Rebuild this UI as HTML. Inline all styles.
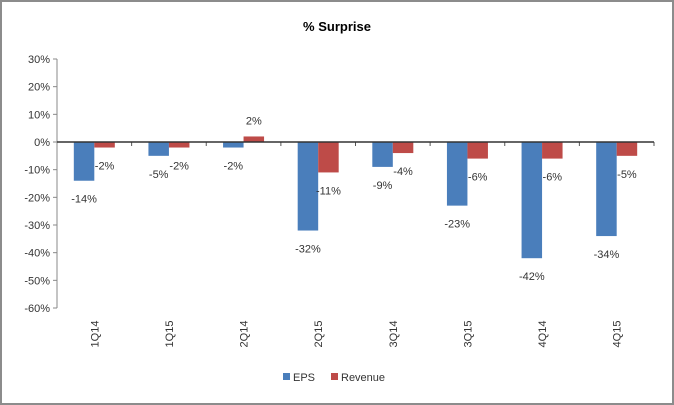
<!DOCTYPE html>
<html><head><meta charset="utf-8"><style>
body{margin:0;background:#fff;}
svg{display:block;font-family:"Liberation Sans",sans-serif;}
</style></head><body>
<svg id="chart" width="674" height="405">
<rect x="1" y="1" width="672" height="403" fill="#fff" stroke="#8c8c8c" stroke-width="2"/>
<text x="337" y="31" text-anchor="middle" font-size="13" font-weight="bold" fill="#000">% Surprise</text>
<g id="plot"></g>
<g>
<rect x="283" y="373" width="7" height="7" fill="#4a7ebb"/>
<text x="293" y="381" font-size="11" fill="#333">EPS</text>
<rect x="331" y="373" width="7" height="7" fill="#be4b48"/>
<text x="341" y="381" font-size="11" fill="#333">Revenue</text>
</g>
</svg>
<script>
const categories=["1Q14","1Q15","2Q14","2Q15","3Q14","3Q15","4Q14","4Q15"];
const eps=[-14,-5,-2,-32,-9,-23,-42,-34];
const revenue=[-2,-2,2,-11,-4,-6,-6,-5];
const ticks=[30,20,10,0,-10,-20,-30,-40,-50,-60];
const NS="http://www.w3.org/2000/svg";
const g=document.getElementById('plot');
const x0=57,x1=654,yTop=59,yBot=308;
const y=v=>yTop+(30-v)/90*(yBot-yTop);
const cw=(x1-x0)/categories.length;
function mk(t,a){const e=document.createElementNS(NS,t);for(const k in a)e.setAttribute(k,a[k]);g.appendChild(e);return e;}
let ax=mk('line',{x1:x0,y1:yTop,x2:x0,y2:yBot,stroke:'#888'});


ticks.forEach(t=>{
 const l=mk('line',{x1:x0-4,y1:y(t),x2:x0,y2:y(t),stroke:'#888'});
 
 
 const tx=mk('text',{x:x0-7,y:y(t)+4,'text-anchor':'end','font-size':'11',fill:'#333'});
 tx.textContent=t+'%';
 
 
});
categories.forEach((c,i)=>{
 const cx=x0+cw*i, mid=cx+cw/2;
 const bw=20.5;
 [[eps[i],'#4a7ebb',mid-bw,'eps'],[revenue[i],'#be4b48',mid,'revenue']].forEach(([v,col,bx,nm])=>{
  const top=Math.min(y(v),y(0)),h=Math.abs(y(v)-y(0));
  const r=mk('rect',{x:bx,y:top,width:bw,height:h,fill:col});
  
  
  const ly=v<0?y(v)+22:y(v)-12;
  const t=mk('text',{x:bx+bw/2,y:ly,'text-anchor':'middle','font-size':'11',fill:'#333'});
  t.textContent=v+'%';
  
  
 });
 const tk=mk('line',{x1:cx+cw,y1:y(0),x2:cx+cw,y2:y(0)+4,stroke:'#555'});
 
 
 const lt=mk('text',{x:0,y:0,'text-anchor':'middle','font-size':'11',fill:'#333',transform:`translate(${mid+4},334) rotate(-90)`});
 lt.textContent=c;
 
 
});
let zl=mk('line',{x1:x0,y1:y(0),x2:x1,y2:y(0),stroke:'#333','stroke-width':1.5});


</script>
</body></html>
